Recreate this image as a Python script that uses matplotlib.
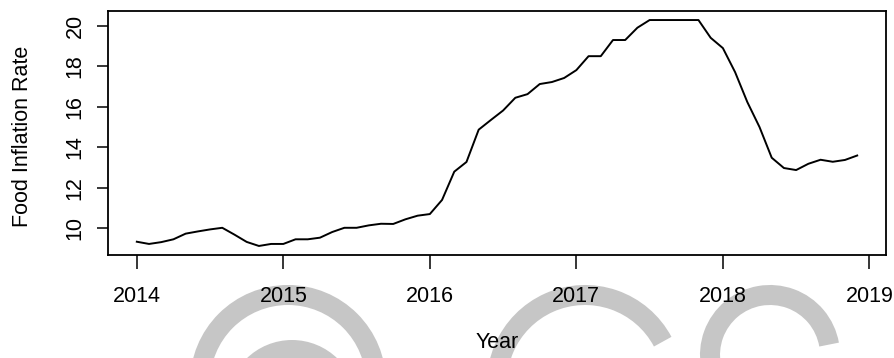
import numpy as np
import matplotlib
matplotlib.use("Agg")
import matplotlib.pyplot as plt
from matplotlib.patches import Arc

plt.rcParams['font.family'] = ['Liberation Sans', 'DejaVu Sans']

# Monthly food inflation rate, Jan 2014 - Dec 2018
start_year = 2014
rate_2014 = [9.32, 9.21, 9.30, 9.44, 9.72, 9.83, 9.93, 10.01, 9.67, 9.31, 9.11, 9.21]
rate_2015 = [9.21, 9.44, 9.44, 9.52, 9.80, 10.01, 10.01, 10.13, 10.21, 10.20, 10.43, 10.61]
rate_2016 = [10.69, 11.39, 12.79, 13.27, 14.87, 15.35, 15.82, 16.45, 16.63, 17.13, 17.23, 17.43]
rate_2017 = [17.82, 18.51, 18.51, 19.31, 19.31, 19.92, 20.30, 20.30, 20.30, 20.30, 20.30, 19.42]
rate_2018 = [18.91, 17.72, 16.24, 15.00, 13.48, 12.97, 12.87, 13.18, 13.38, 13.28, 13.37, 13.59]

x_ticks = [2014, 2015, 2016, 2017, 2018, 2019]
y_ticks = [10, 12, 14, 16, 18, 20]

rate = np.array(rate_2014 + rate_2015 + rate_2016 + rate_2017 + rate_2018)
time = start_year + np.arange(len(rate)) / 12.0

W, H = 895, 358
fig = plt.figure(figsize=(W / 100, H / 100), dpi=100)

# background logo arcs (pixel space, y pointing up)
bg = fig.add_axes([0, 0, 1, 1], zorder=-1)
bg.set_xlim(0, W)
bg.set_ylim(0, H)
bg.axis('off')
grey = '#c6c6c6'
stroke = 20 * 0.72
for (cx, cy, r, t1, t2) in [
    (288, 383, 88, 0, 180),
    (292, 405, 55, 0, 180),
    (585, 383, 88, 28, 200),
    (770, 355, 60, 10, 250),
]:
    bg.add_patch(Arc((cx, H - cy), 2 * r, 2 * r, theta1=t1, theta2=t2,
                     lw=stroke, color=grey, capstyle='butt'))

left, right, top, bottom = 108, 886, 11, 255
ax = fig.add_axes([left / W, 1 - bottom / H, (right - left) / W, (bottom - top) / H])
ax.plot(time, rate, color='black', lw=1.4)

# R-style 4% padding on both axes
xr = time.max() - time.min()
ax.set_xlim(time.min() - 0.04 * xr, time.max() + 0.04 * xr)
yr = rate.max() - rate.min()
ax.set_ylim(rate.min() - 0.04 * yr, rate.max() + 0.04 * yr)

fs = 15.5
ax.set_xticks(x_ticks)
ax.set_xticklabels([str(v) for v in x_ticks], fontsize=fs)
ax.set_yticks(y_ticks)
ax.set_yticklabels([str(v) for v in y_ticks], fontsize=fs, rotation=90, va='center')
ax.tick_params(axis='x', direction='out', length=10, width=1.1, pad=12)
ax.tick_params(axis='y', direction='out', length=8, width=1.1, pad=8)
for s in ax.spines.values():
    s.set_linewidth(1.3)

ax.set_xlabel('Year', fontsize=fs)
ax.set_ylabel('Food Inflation Rate', fontsize=fs)
ax.xaxis.label.set_va('center')
ax.xaxis.set_label_coords(0.5 * (left + right) / W, 1 - 342 / H, transform=fig.transFigure)
ax.yaxis.label.set_rotation_mode('default')
ax.yaxis.label.set_va('center')
ax.yaxis.set_label_coords(23 / W, 1 - 136 / H, transform=fig.transFigure)

fig.savefig('out.png', dpi=100)
